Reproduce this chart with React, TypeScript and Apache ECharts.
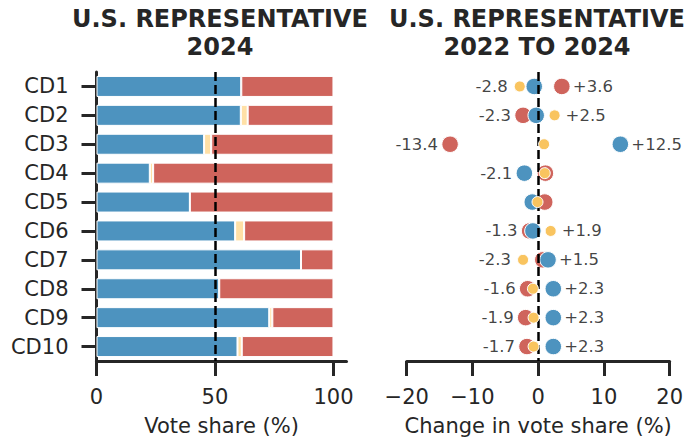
import React, { useEffect, useRef } from "react";
import * as echarts from "echarts";

const categories = ["CD1", "CD2", "CD3", "CD4", "CD5", "CD6", "CD7", "CD8", "CD9", "CD10"];
const demShare = [61.1, 60.9, 45.4, 22.5, 39.4, 58.5, 86.3, 51.8, 72.9, 59.5];
const otherShare = [0, 2.9, 3.0, 1.4, 0, 3.8, 0, 0, 1.3, 1.8];
const repShare = [38.9, 36.2, 51.6, 76.1, 60.6, 37.7, 13.7, 48.2, 25.8, 38.7];

const demChange = [-0.6, -0.3, 12.5, -2.1, -0.9, -0.8, 1.5, 2.3, 2.3, 2.3];
const repChange = [3.6, -2.3, -13.4, 1.1, 1.0, -1.3, 0.7, -1.6, -1.9, -1.7];
const otherChange = [-2.8, 2.5, 0.9, 1.0, -0.1, 1.9, -2.3, -0.8, -0.7, -0.7];

const shareTicks = [0, 50, 100];
const titleLines = [
  ["U.S. REPRESENTATIVE", "2024"],
  ["U.S. REPRESENTATIVE", "2022 TO 2024"],
];
const axisNames = ["Vote share (%)", "Change in vote share (%)"];

const BLUE = "#4d93bf";
const RED = "#cf645c";
const YELLOW_BAR = "#ffe0a6";
const YELLOW_DOT = "#f9c45f";
const INK = "#262626";
const FONT = "DejaVu Sans";

export default function App() {
  const ref = useRef<HTMLDivElement>(null);
  useEffect(() => {
    if (!ref.current) return;
    const chart = echarts.init(ref.current, null, { renderer: "svg" });

    const labelThreshold = 1.2;
    const negLabels: any[] = [];
    const posLabels: any[] = [];
    categories.forEach((_, i) => {
      const vals = [demChange[i], repChange[i], otherChange[i]];
      const mn = Math.min(...vals);
      const mx = Math.max(...vals);
      if (mn <= -labelThreshold) negLabels.push({ value: [mn, i], txt: mn.toFixed(1) });
      if (mx >= labelThreshold) posLabels.push({ value: [mx, i], txt: "+" + mx.toFixed(1) });
    });

    const axisLineStyle = { color: INK, width: 3 };
    const tickStyle = { color: INK, width: 3 };
    const labelText = { color: INK, fontSize: 21, fontFamily: FONT };
    const nameText = { color: INK, fontSize: 21, fontFamily: FONT };

    const dash = {
      silent: true,
      symbol: ["none", "none"],
      label: { show: false },
      lineStyle: { color: "#000", width: 2.5, type: [9, 4] },
      emphasis: { disabled: true },
    };

    const graphics: any[] = [];
    titleLines.forEach((lines, k) => {
      lines.forEach((line, j) => {
        graphics.push({
          type: "text",
          x: k === 0 ? 220 : 537,
          y: 7 + j * 28,
          style: {
            text: line,
            fill: INK,
            font: `bold 24px ${FONT}`,
            fontFamily: FONT,
            fontSize: 24,
            fontWeight: "bold",
            textAlign: "center",
            textVerticalAlign: "top",
            verticalAlign: "top",
          },
        });
      });
    });

    chart.setOption({
      animation: false,
      textStyle: { fontFamily: FONT },
      grid: [
        { left: 96.5, top: 72, width: 250, height: 289 },
        { left: 406.7, top: 72, width: 265, height: 289 },
      ],
      xAxis: [
        {
          gridIndex: 0,
          type: "value",
          min: 0,
          max: 105.5,
          splitLine: { show: false },
          axisLine: { show: true, lineStyle: axisLineStyle },
          axisTick: { show: true, length: 15, lineStyle: tickStyle, customValues: shareTicks },
          axisLabel: { ...labelText, margin: 25, customValues: shareTicks },
          name: axisNames[0],
          nameLocation: "middle",
          nameGap: 54,
          nameTextStyle: nameText,
        },
        {
          gridIndex: 1,
          type: "value",
          min: -20,
          max: 20,
          interval: 10,
          splitLine: { show: false },
          axisLine: { show: true, onZero: false, lineStyle: axisLineStyle },
          axisTick: { show: true, length: 15, lineStyle: tickStyle },
          axisLabel: {
            ...labelText,
            margin: 25,
            formatter: (v: number) => String(v).replace("-", "\u2212"),
          },
          name: axisNames[1],
          nameLocation: "middle",
          nameGap: 54,
          nameTextStyle: nameText,
        },
      ],
      yAxis: [
        {
          gridIndex: 0,
          type: "category",
          data: categories,
          inverse: true,
          axisLine: { show: true, lineStyle: axisLineStyle },
          axisTick: { show: true, length: 15, alignWithLabel: true, lineStyle: tickStyle },
          axisLabel: { ...labelText, margin: 28 },
          splitLine: { show: false },
        },
        {
          gridIndex: 1,
          type: "category",
          data: categories,
          inverse: true,
          axisLine: { show: false },
          axisTick: { show: false },
          axisLabel: { show: false },
          splitLine: { show: false },
        },
      ],
      graphic: graphics,
      series: [
        {
          type: "bar",
          stack: "share",
          xAxisIndex: 0,
          yAxisIndex: 0,
          data: demShare,
          barWidth: 21,
          itemStyle: { color: BLUE, borderColor: "#fff", borderWidth: 1 },
          z: 2,
        },
        {
          type: "bar",
          stack: "share",
          xAxisIndex: 0,
          yAxisIndex: 0,
          data: otherShare,
          barWidth: 21,
          itemStyle: { color: YELLOW_BAR, borderColor: "#fff", borderWidth: 1 },
          z: 2,
        },
        {
          type: "bar",
          stack: "share",
          xAxisIndex: 0,
          yAxisIndex: 0,
          data: repShare,
          barWidth: 21,
          itemStyle: { color: RED, borderColor: "#fff", borderWidth: 1 },
          z: 2,
        },
        {
          type: "scatter",
          xAxisIndex: 0,
          yAxisIndex: 0,
          data: [[50, 0]],
          symbolSize: 0,
          silent: true,
          z: 10,
          markLine: { ...dash, data: [{ xAxis: 50 }] },
        },
        {
          type: "scatter",
          xAxisIndex: 1,
          yAxisIndex: 1,
          data: repChange.map((v, i) => [v, i]),
          symbolSize: 16.5,
          itemStyle: { color: RED, borderColor: "#fff", borderWidth: 1, opacity: 1 },
          z: 3,
        },
        {
          type: "scatter",
          xAxisIndex: 1,
          yAxisIndex: 1,
          data: demChange.map((v, i) => [v, i]),
          symbolSize: 16.5,
          itemStyle: { color: BLUE, borderColor: "#fff", borderWidth: 1, opacity: 1 },
          z: 4,
        },
        {
          type: "scatter",
          xAxisIndex: 1,
          yAxisIndex: 1,
          data: otherChange.map((v, i) => [v, i]),
          symbolSize: 11,
          itemStyle: { color: YELLOW_DOT, borderColor: "#fff", borderWidth: 1, opacity: 1 },
          z: 5,
        },
        {
          type: "scatter",
          xAxisIndex: 1,
          yAxisIndex: 1,
          data: negLabels,
          symbolSize: 0,
          silent: true,
          z: 6,
          label: {
            show: true,
            position: "left",
            distance: 12,
            color: "#111",
            fontSize: 16.5,
            fontFamily: FONT,
            formatter: (p: any) => p.data.txt,
          },
        },
        {
          type: "scatter",
          xAxisIndex: 1,
          yAxisIndex: 1,
          data: posLabels,
          symbolSize: 0,
          silent: true,
          z: 6,
          label: {
            show: true,
            position: "right",
            distance: 11,
            color: "#111",
            fontSize: 16.5,
            fontFamily: FONT,
            formatter: (p: any) => p.data.txt,
          },
          markLine: { ...dash, data: [{ xAxis: 0 }] },
        },
      ],
    });
    return () => chart.dispose();
  }, []);
  return (
    <div
      ref={ref}
      style={{ position: "fixed", left: 0, top: 0, width: 686, height: 445, background: "#fff" }}
    />
  );
}
